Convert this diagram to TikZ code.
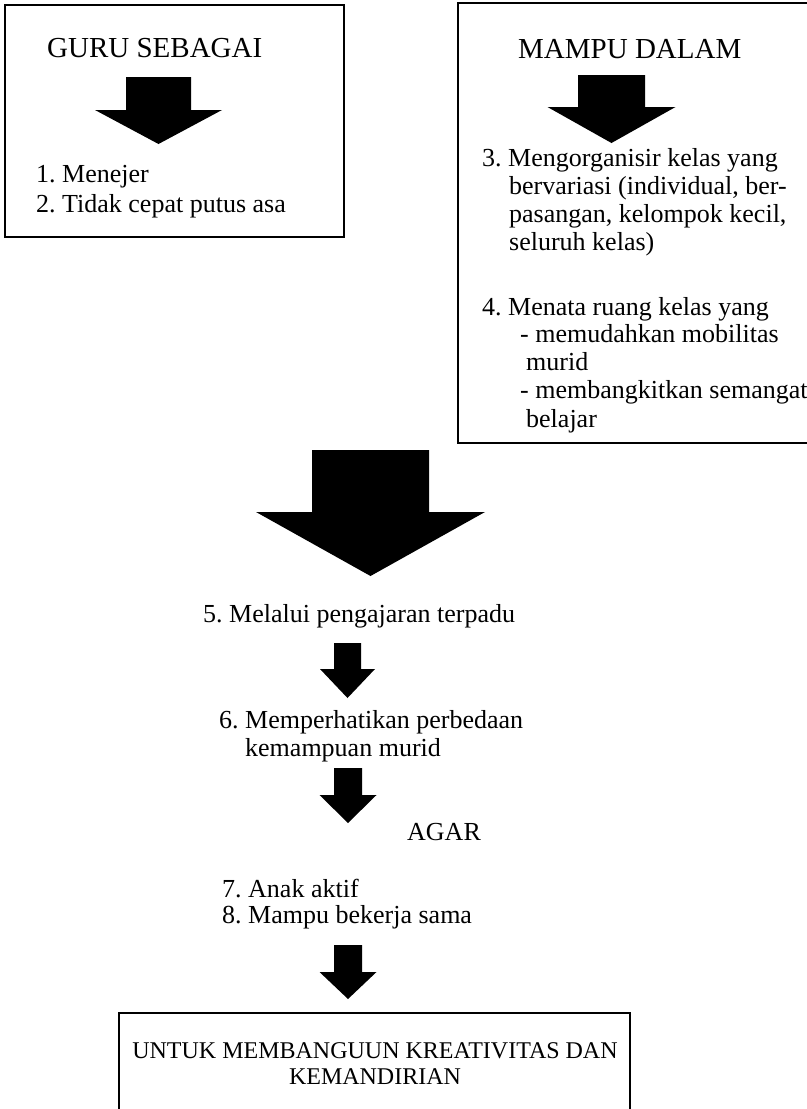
\documentclass[tikz,border=0pt]{standalone}
\usepackage{fontspec}
\setmainfont{Liberation Serif}
\frenchspacing
\tikzset{
	txt/.style={anchor=base west,inner sep=0pt,font=\fontsize{26bp}{28bp}\selectfont},
	head/.style={txt,font=\fontsize{29bp}{32bp}\selectfont},
	foot/.style={anchor=base,inner sep=0pt,font=\fontsize{24bp}{26bp}\selectfont},
	frame/.style={draw,line width=1.6bp},
	pics/fatarrow/.style n args={5}{code={
		\fill (-#1,#3) -- (#1,#3) -- (#1,#4) -- (#2,#4) -- (0,#5) -- (-#2,#4) -- (-#1,#4) -- cycle;}}
}

\begin{document}
\begin{tikzpicture}[x=1bp,y=-1bp]
	\useasboundingbox (0,0) rectangle (807,1109);
	
	\draw[frame] (5,5) rectangle (344,237);
	\node[head] at (47,57)(guru){GURU SEBAGAI};
	\pic at (158.5,0) {fatarrow={32.5}{63.5}{77}{110}{144}};
	\node[txt] at (36,182)(t1){1. Menejer};
	\node[txt] at (36,212)(t2){2. Tidak cepat putus asa};
	
	\draw[frame] (458,3) rectangle (812,443);
	\node[head] at (518,58)(mampu){MAMPU DALAM};
	\pic at (611.5,0) {fatarrow={33.5}{64}{75}{107}{143}};
	\node[txt] at (482,166)(t3){3. Mengorganisir kelas yang};
	\node[txt] at (509,194)(t3b){bervariasi (individual, ber-};
	\node[txt] at (509,222)(t3c){pasangan, kelompok kecil,};
	\node[txt] at (509,250)(t3d){seluruh kelas)};
	\node[txt] at (482,315)(t4){4. Menata ruang kelas yang};
	\node[txt] at (520,342)(t4a){- memudahkan mobilitas};
	\node[txt] at (526,370)(t4b){murid};
	\node[txt] at (520,398)(t4c){- membangkitkan semangat};
	\node[txt] at (526,427)(t4d){belajar};
	
	\pic at (370.5,0) {fatarrow={58.5}{114.5}{450}{512}{576}};
	\node[txt] at (203,622)(t5){5. Melalui pengajaran terpadu};
	
	\pic at (347.5,0) {fatarrow={13.5}{27.5}{643}{669}{698}};
	\node[txt] at (219,728)(t6){6. Memperhatikan perbedaan};
	\node[txt] at (245,756)(t6b){kemampuan murid};
	
	\pic at (348,0) {fatarrow={14}{28.5}{768}{795}{823}};
	\node[txt] at (407,840)(agar){AGAR};
	\node[txt] at (222,897)(t7){7. Anak aktif};
	\node[txt] at (222,923)(t8){8. Mampu bekerja sama};
	
	\pic at (348,0) {fatarrow={14}{28.5}{945}{972}{999}};
	\draw[frame] (119,1013) rectangle (630,1120);
	\node[foot] at (375,1058)(untuk){UNTUK MEMBANGUUN KREATIVITAS DAN};
	\node[foot] at (375,1084)(mandiri){KEMANDIRIAN};
\end{tikzpicture}
\end{document}
